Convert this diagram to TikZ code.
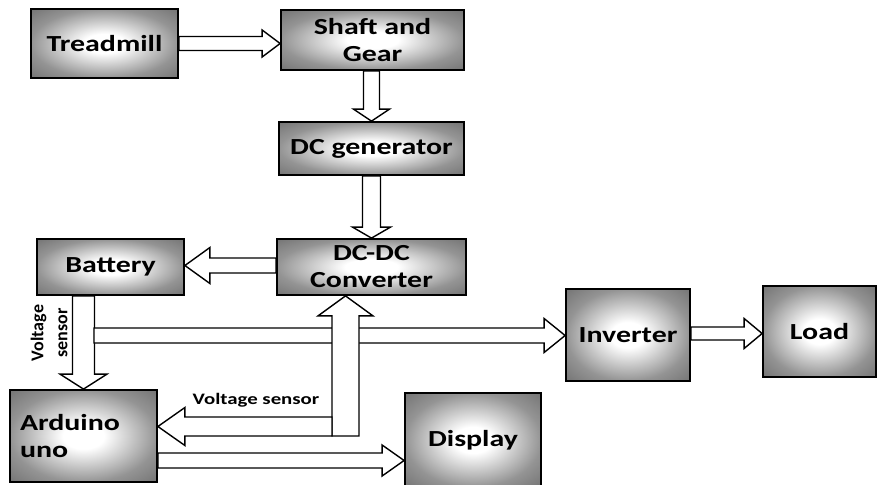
\documentclass[tikz,border=0pt]{standalone}
\usepackage{fontspec}
\setmainfont{Carlito}[FakeStretch=1.3]
\newfontfamily\uprightlabel{Carlito}
\usetikzlibrary{calc}
\pgfdeclareradialshading{glow}{\pgfpoint{0bp}{0bp}}{color(0bp)=(white); color(7bp)=(white); color(25bp)=(black!42); color(36bp)=(black!55); color(50bp)=(black!55)}
\tikzset{
	block/.style={draw, line width=1.8pt, shading=glow, font=\bfseries\fontsize{23}{27}\selectfont, align=center, inner sep=0pt},
	hollow/.style={draw, line width=1.4pt, fill=white, line join=miter},
	tag/.style={font=\bfseries\fontsize{16}{18}\selectfont, inner sep=0pt}
}
% from, to, half shaft, half head, head length
\newcommand{\hollowarrow}[5]{\draw[hollow] let \p1=(#1), \p2=(#2), \n1={veclen(\x2-\x1,\y2-\y1)}, \n2={(\x2-\x1)/\n1}, \n3={(\y2-\y1)/\n1} in
	({\x1-#3*(\n3)},{\y1+#3*(\n2)}) -- ({\x2-#5*(\n2)-#3*(\n3)},{\y2-#5*(\n3)+#3*(\n2)}) -- ({\x2-#5*(\n2)-#4*(\n3)},{\y2-#5*(\n3)+#4*(\n2)}) -- (\x2,\y2)
	-- ({\x2-#5*(\n2)+#4*(\n3)},{\y2-#5*(\n3)-#4*(\n2)}) -- ({\x2-#5*(\n2)+#3*(\n3)},{\y2-#5*(\n3)-#3*(\n2)}) -- ({\x1+#3*(\n3)},{\y1-#3*(\n2)}) -- cycle;}

\begin{document}
\begin{tikzpicture}[x=1pt, y=-1pt]
			%%%%% START %%%%%
			\useasboundingbox (0,0) rectangle (877,484);
			
			\node[block, minimum width=147pt, minimum height=69pt] (treadmill) at (104.5, 43.5) {Treadmill};
			\node[block, minimum width=183pt, minimum height=60pt] (shaft) at (372.5, 40) {Shaft and\\Gear};
			\node[block, minimum width=185pt, minimum height=53pt] (generator) at (371.5, 148.5) {DC generator};
			\node[block, minimum width=189pt, minimum height=56pt] (converter) at (371.5, 267) {DC-DC\\Converter};
			\node[block, minimum width=147pt, minimum height=56pt] (battery) at (110.5, 267) {Battery};
			\node[block, minimum width=124pt, minimum height=92pt] (inverter) at (628, 335) {Inverter};
			\node[block, minimum width=113pt, minimum height=91pt] (load) at (819.5, 331.5) {Load};
			\node[block, minimum width=147pt, minimum height=92pt, text width=127pt, align=left] (arduino) at (83.5, 436) {Arduino\\uno};
			\node[block, minimum width=136pt, minimum height=94pt] (display) at (473, 440) {Display};
			
			\coordinate (tap) at (94, 335.5);
			\coordinate (junction) at (345.5, 436);
			\coordinate (sense) at (332, 426.5);
			
			\hollowarrow{treadmill.east}{shaft.west |- treadmill.east}{7}{13.5}{18}
			\hollowarrow{shaft.south -| generator.south}{generator.north}{8}{18}{12}
			\hollowarrow{generator.south}{converter.north}{9}{19}{11}
			\hollowarrow{$(converter.west)+(0,-1.5)$}{$(battery.east)+(0,-1.5)$}{7.5}{18}{25}
			\hollowarrow{battery.south -| arduino.north}{arduino.north}{11}{23.5}{15}
			\hollowarrow{tap}{inverter.west |- tap}{7.5}{17}{21}
			\hollowarrow{junction}{junction |- converter.south}{13.5}{27.5}{20}
			\hollowarrow{sense}{arduino.east |- sense}{9.5}{19}{27}
			\hollowarrow{$(arduino.east)+(0,24.5)$}{$(display.west |- arduino.east)+(0,24.5)$}{7.5}{15.5}{22}
			\hollowarrow{$(inverter.east)+(0,-1.5)$}{$(load.west |- inverter.east)+(0,-1.5)$}{6.5}{15}{18}
			
			\node[tag] (vsense) at (256, 400) {Voltage sensor};
			\node[tag, font=\uprightlabel\bfseries\fontsize{18}{24}\selectfont, align=center, rotate=90] (vbatt) at (49, 333) {Voltage\\sensor};
			
			%%%%% END %%%%%
\end{tikzpicture}
\end{document}
